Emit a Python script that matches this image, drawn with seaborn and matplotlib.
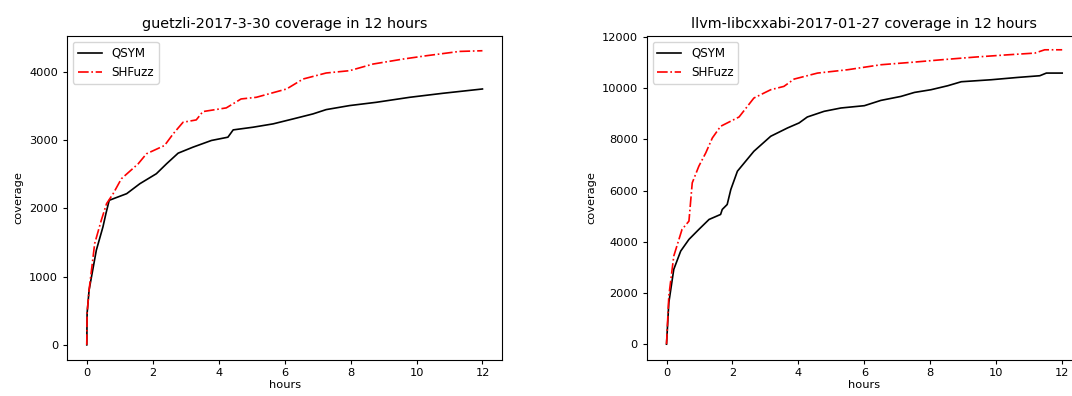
import pandas as pd
import matplotlib
matplotlib.use("Agg")
import matplotlib.pyplot as plt
import seaborn as sns

# guetzli: Stunden / Coverage
guetzli_qsym_h = [0, 0.01, 0.07, 0.29, 0.49, 0.58, 0.68, 1.21, 1.61, 2.11, 2.42, 2.77, 3.22, 3.78,
                  4.28, 4.44, 5.04, 5.65, 6.26, 6.86, 7.26, 7.97, 8.78, 9.79, 10.8, 12.0]
guetzli_qsym_cov = [0, 463, 803, 1387, 1727, 1922, 2117, 2214, 2360, 2506, 2652, 2807, 2895, 2993,
                    3041, 3148, 3187, 3236, 3309, 3382, 3445, 3504, 3552, 3625, 3684, 3747]
guetzli_shf_h = [0, 0.01, 0.07, 0.24, 0.44, 0.6, 0.8, 1.05, 1.56, 1.81, 2.36, 2.62, 2.92, 3.32,
                 3.52, 4.23, 4.68, 5.14, 6.06, 6.56, 7.26, 7.97, 8.68, 9.59, 10.3, 11.3, 12.0]
guetzli_shf_cov = [0, 463, 803, 1484, 1825, 2068, 2214, 2433, 2652, 2798, 2920, 3090, 3260, 3294,
                   3416, 3470, 3601, 3625, 3747, 3893, 3981, 4015, 4112, 4185, 4234, 4297, 4307]

# llvm-libcxxabi
llvm_qsym_h = [0, 0.07, 0.22, 0.43, 0.68, 0.98, 1.29, 1.64, 1.69, 1.84, 1.95, 2.15, 2.4, 2.65,
               3.16, 3.67, 4.02, 4.27, 4.78, 5.29, 6.0, 6.5, 7.11, 7.52, 8.02, 8.53, 8.94,
               9.85, 10.66, 11.32, 11.52, 12.0]
llvm_qsym_cov = [0, 1623, 2922, 3636, 4091, 4480, 4870, 5065, 5260, 5454, 6039, 6753, 7143, 7532,
                 8117, 8442, 8637, 8870, 9091, 9221, 9311, 9517, 9673, 9829, 9934, 10090, 10246,
                 10324, 10415, 10480, 10584, 10584]
llvm_shf_h = [0, 0.07, 0.22, 0.47, 0.68, 0.78, 0.98, 1.19, 1.39, 1.64, 2.2, 2.65, 3.16, 3.56,
              3.87, 4.58, 5.49, 6.5, 7.52, 8.33, 9.35, 10.36, 11.17, 11.47, 12.0]
llvm_shf_cov = [0, 1883, 3441, 4480, 4805, 6299, 6948, 7468, 8052, 8506, 8870, 9610, 9934, 10064,
                10350, 10584, 10714, 10909, 11013, 11103, 11208, 11298, 11364, 11493, 11493]

titles = ["guetzli-2017-3-30 coverage in 12 hours", "llvm-libcxxabi-2017-01-27 coverage in 12 hours"]

plt.rcParams["font.family"] = "DejaVu Sans"
plt.rcParams["font.size"] = 8.2
plt.rcParams["xtick.major.size"] = 2.8
plt.rcParams["ytick.major.size"] = 2.8

fig = plt.figure(figsize=(10.72, 3.96), dpi=100)
ax1 = fig.add_axes([0.0625, 0.092, 0.406, 0.817])
ax2 = fig.add_axes([0.6033, 0.092, 0.406, 0.817])

daten = [
    (ax1, guetzli_qsym_h, guetzli_qsym_cov, guetzli_shf_h, guetzli_shf_cov),
    (ax2, llvm_qsym_h, llvm_qsym_cov, llvm_shf_h, llvm_shf_cov),
]

for (ax, qh, qc, sh, sc), titel in zip(daten, titles):
    sns.lineplot(x=qh, y=qc, ax=ax, color="black", linewidth=1.2, label="QSYM")
    sns.lineplot(x=sh, y=sc, ax=ax, color="red", linewidth=1.2, linestyle="-.", label="SHFuzz")
    ax.set_title(titel, fontsize=10.4)
    ax.set_xlabel("hours", labelpad=1.5)
    ax.set_ylabel("coverage")
    ax.set_xticks([0, 2, 4, 6, 8, 10, 12])
    ax.legend(loc="upper left", fontsize=8.6)

ax1.set_yticks([0, 1000, 2000, 3000, 4000])
ax2.set_yticks([0, 2000, 4000, 6000, 8000, 10000, 12000])
ax2.set_ylim(-600, 12030)

fig.savefig("out.png", dpi=100)
